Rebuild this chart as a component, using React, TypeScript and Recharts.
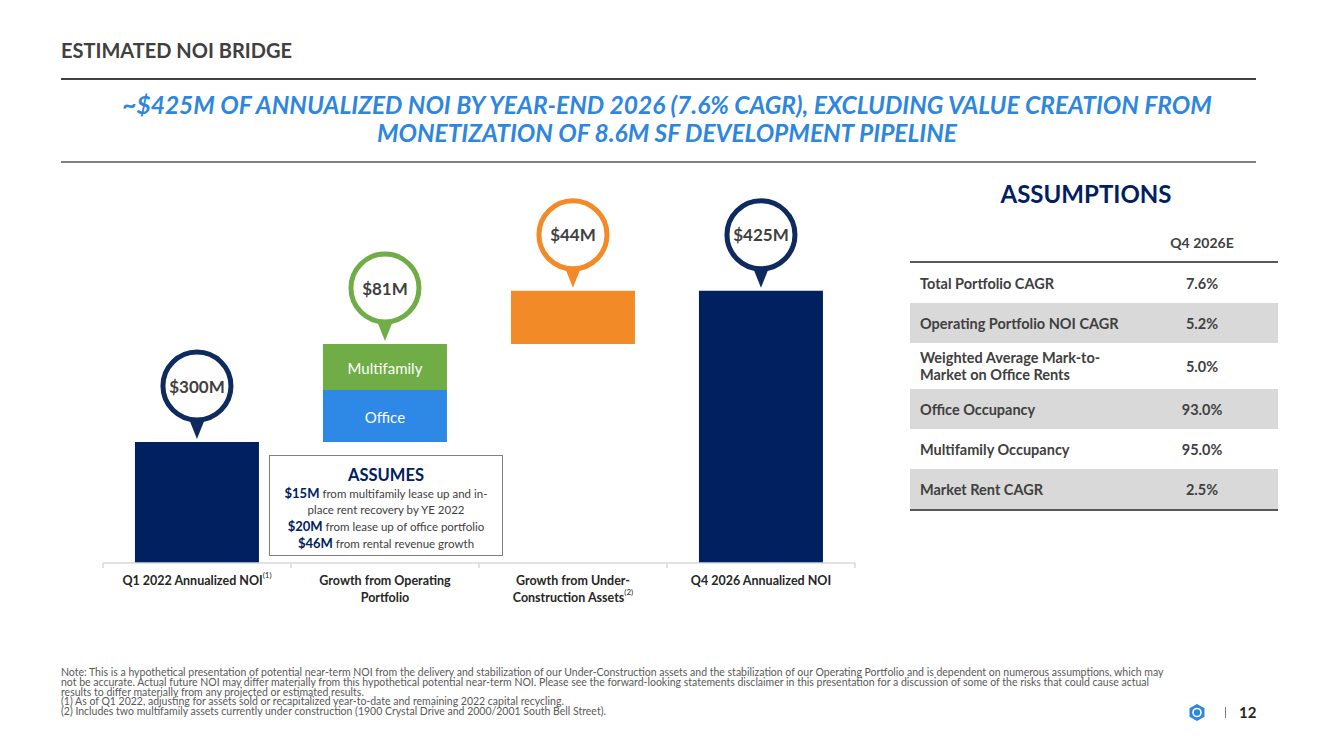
import React from 'react';
import { BarChart, Bar, XAxis, YAxis, LabelList } from 'recharts';

// Bridge columns (labels split across lines as on the axis)
const categoryLines = [
  ['Q1 2022 Annualized NOI'],
  ['Growth from Operating', 'Portfolio'],
  ['Growth from Under-', 'Construction Assets'],
  ['Q4 2026 Annualized NOI'],
];
const categoryNotes = ['(1)', '', '(2)', ''];
const categories = categoryLines.map((l) => l.join(' '));

// $M of annualized NOI
const totalNoi = [300, 0, 0, 425];
const officeGrowth = [0, 43, 0, 0];
const multifamilyGrowth = [0, 38, 0, 0];
const underConstructionGrowth = [0, 0, 44, 0];

const assumptionLabels = [
  ['Total Portfolio CAGR'],
  ['Operating Portfolio NOI CAGR'],
  ['Weighted Average Mark-to-', 'Market on Office Rents'],
  ['Office Occupancy'],
  ['Multifamily Occupancy'],
  ['Market Rent CAGR'],
];
const assumptionValues = ['7.6%', '5.2%', '5.0%', '93.0%', '95.0%', '2.5%'];

const footnotes = [
  'Note: This is a hypothetical presentation of potential near-term NOI from the delivery and stabilization of our Under-Construction assets and the stabilization of our Operating Portfolio and is dependent on numerous assumptions, which may',
  'not be accurate. Actual future NOI may differ materially from this hypothetical potential near-term NOI. Please see the forward-looking statements disclaimer in this presentation for a discussion of some of the risks that could cause actual',
  'results to differ materially from any projected or estimated results.',
  '(1) As of Q1 2022, adjusting for assets sold or recapitalized year-to-date and remaining 2022 capital recycling.',
  '(2) Includes two multifamily assets currently under construction (1900 Crystal Drive and 2000/2001 South Bell Street).',
];

const NAVY = '#002060';
const OFFICE_BLUE = '#2E88E6';
const GREEN = '#70AD47';
const ORANGE = '#F28A27';
const TEXT = '#404040';
const FONT = "Lato, 'Open Sans', sans-serif";

const CHART_W = 900;
const CHART_H = 620;
// plot area runs 188..563 so the bubbles above the bars stay inside it
const MARGIN = { top: 188, right: 45, bottom: 7, left: 103 };
const BAND = (CHART_W - MARGIN.left - MARGIN.right) / categories.length;

// waterfall: growth steps float on the running total
let running = 0;
const chartData = categories.map((name, i) => {
  const step = officeGrowth[i] + multifamilyGrowth[i] + underConstructionGrowth[i];
  const base = totalNoi[i] ? 0 : running;
  running = totalNoi[i] || running + step;
  return {
    name,
    base,
    total: totalNoi[i],
    office: officeGrowth[i],
    multifamily: multifamilyGrowth[i],
    underConstruction: underConstructionGrowth[i],
    change: totalNoi[i] || step,
  };
});

const stackOrder = ['total', 'office', 'multifamily', 'underConstruction'] as const;
const bubbleColors: Record<string, string> = {
  total: '#0E2A5E',
  office: GREEN,
  multifamily: GREEN,
  underConstruction: ORANGE,
};

const topKey = (row: any) => {
  let key = '';
  stackOrder.forEach((k) => {
    if (row[k] > 0) key = k;
  });
  return key;
};

const box = (props: any) => {
  const vb = props.viewBox || {};
  return {
    x: vb.x ?? props.x,
    y: vb.y ?? props.y,
    width: vb.width ?? props.width,
    height: vb.height ?? props.height,
  };
};

// label entries skip empty segments, so find the column from the bar position
const rowAt = (x: number, width: number) => chartData[Math.floor((x + width / 2 - MARGIN.left) / BAND)];

const makeBubble = (key: string) => (props: any) => {
  const { x, y, width } = box(props);
  const row = rowAt(x, width);
  if (!row || topKey(row) !== key) return null;
  const cx = x + width / 2;
  const cy = y - 56;
  const color = bubbleColors[key];
  return (
    <g>
      <polygon points={`${cx - 10},${cy + 28} ${cx + 10},${cy + 28} ${cx},${cy + 53}`} fill={color} />
      <circle cx={cx} cy={cy} r={34} fill="#fff" stroke={color} strokeWidth={5} />
      <text x={cx} y={cy} textAnchor="middle" dominantBaseline="central" fontSize={17} fontWeight={700} fill={TEXT} fontFamily={FONT}>
        {`$${row.change}M`}
      </text>
    </g>
  );
};

const makeSegmentName = (key: string, name: string) => (props: any) => {
  const { x, y, width, height } = box(props);
  const row: any = rowAt(x, width);
  if (!row || !row[key]) return null;
  return (
    <text x={x + width / 2} y={y + height / 2 + 1} textAnchor="middle" dominantBaseline="central" fontSize={15} fill="#fff" fontFamily={FONT}>
      {name}
    </text>
  );
};

const CategoryTick = (props: any) => {
  const { x, y, payload } = props;
  const i = payload.index;
  const lines = categoryLines[i];
  return (
    <g>
      <line x1={x - BAND / 2} x2={x - BAND / 2} y1={y} y2={y + 5} stroke="#d9d9d9" strokeWidth={1.5} />
      {i === categories.length - 1 && (
        <line x1={x + BAND / 2} x2={x + BAND / 2} y1={y} y2={y + 5} stroke="#d9d9d9" strokeWidth={1.5} />
      )}
      {lines.map((line, j) => (
        <text key={j} x={x} y={y + 17 + j * 17} textAnchor="middle" dominantBaseline="central" fontSize={12.5} fontWeight={700} fill="#262626" fontFamily={FONT}>
          {line}
          {j === lines.length - 1 && categoryNotes[i] ? (
            <tspan dy={-5} fontSize={8} fontWeight={400}>{categoryNotes[i]}</tspan>
          ) : null}
        </text>
      ))}
    </g>
  );
};

const abs = (style: React.CSSProperties): React.CSSProperties => ({ position: 'absolute', ...style });

export default function App() {
  return (
    <div style={abs({ left: 0, top: 0, width: 1331, height: 748, background: '#fff', overflow: 'hidden', fontFamily: FONT, color: TEXT })}>
      <div style={abs({ left: 61, top: 38, fontSize: 20, fontWeight: 700, lineHeight: '24px' })}>ESTIMATED NOI BRIDGE</div>
      <div style={abs({ left: 61, top: 78, width: 1195, height: 1.5, background: '#404040' })} />
      <div
        style={abs({
          left: 61,
          top: 91,
          width: 1212,
          textAlign: 'center',
          fontSize: 24.5,
          fontWeight: 700,
          fontStyle: 'italic',
          color: '#2E86DE',
          lineHeight: '28px',
          whiteSpace: 'nowrap',
        })}
      >
        <div>~$425M OF ANNUALIZED NOI BY YEAR-END 2026 (7.6% CAGR), EXCLUDING VALUE CREATION FROM</div>
        <div>MONETIZATION OF 8.6M SF DEVELOPMENT PIPELINE</div>
      </div>
      <div style={abs({ left: 61, top: 161, width: 1195, height: 1.5, background: '#808080' })} />

      <div style={abs({ left: 0, top: 0 })}>
        <BarChart width={CHART_W} height={CHART_H} data={chartData} margin={MARGIN} barCategoryGap="17%">
          <XAxis
            dataKey="name"
            height={50}
            axisLine={{ stroke: '#d9d9d9', strokeWidth: 1.5 }}
            tickLine={false}
            tickSize={0}
            tickMargin={0}
            interval={0}
            tick={<CategoryTick />}
          />
          <YAxis hide domain={[200, 510]} allowDataOverflow />
          <Bar dataKey="base" stackId="noi" fill="transparent" isAnimationActive={false} />
          <Bar dataKey="total" stackId="noi" fill={NAVY} isAnimationActive={false}>
            <LabelList dataKey="total" content={makeBubble('total')} />
          </Bar>
          <Bar dataKey="office" stackId="noi" fill={OFFICE_BLUE} isAnimationActive={false}>
            <LabelList dataKey="office" content={makeSegmentName('office', 'Office')} />
          </Bar>
          <Bar dataKey="multifamily" stackId="noi" fill={GREEN} isAnimationActive={false}>
            <LabelList dataKey="multifamily" content={makeSegmentName('multifamily', 'Multifamily')} />
            <LabelList dataKey="multifamily" content={makeBubble('multifamily')} />
          </Bar>
          <Bar dataKey="underConstruction" stackId="noi" fill={ORANGE} isAnimationActive={false}>
            <LabelList dataKey="underConstruction" content={makeBubble('underConstruction')} />
          </Bar>
        </BarChart>
      </div>

      {/* what the operating growth assumes */}
      <div
        style={abs({
          left: 269,
          top: 455,
          width: 232,
          height: 99,
          border: '1.5px solid #7f7f7f',
          background: '#fff',
          textAlign: 'center',
          fontSize: 11.5,
          lineHeight: '16px',
          color: TEXT,
          whiteSpace: 'nowrap',
        })}
      >
        <div style={{ fontSize: 16.5, fontWeight: 700, color: NAVY, lineHeight: '20px', marginTop: 9 }}>ASSUMES</div>
        <div>
          <b style={{ color: NAVY, fontSize: 13 }}>$15M</b> from multifamily lease up and in-
        </div>
        <div>place rent recovery by YE 2022</div>
        <div>
          <b style={{ color: NAVY, fontSize: 13 }}>$20M</b> from lease up of office portfolio
        </div>
        <div>
          <b style={{ color: NAVY, fontSize: 13 }}>$46M</b> from rental revenue growth
        </div>
      </div>

      {/* assumptions table */}
      <div style={abs({ left: 910, top: 180, width: 352, textAlign: 'center', fontSize: 24, fontWeight: 700, color: NAVY, lineHeight: '28px' })}>
        ASSUMPTIONS
      </div>
      <div style={abs({ left: 1150, top: 234, width: 104, textAlign: 'center', fontSize: 14, fontWeight: 700, lineHeight: '18px' })}>
        Q4 2026E
      </div>
      <div style={abs({ left: 910, top: 261, width: 368, borderTop: '2px solid #595959', borderBottom: '2px solid #595959' })}>
        {assumptionLabels.map((label, i) => (
          <div
            key={i}
            style={{
              display: 'flex',
              alignItems: 'center',
              height: label.length > 1 ? 46 : 40,
              background: i % 2 === 1 ? '#d9d9d9' : '#fff',
              fontSize: 14.5,
              fontWeight: 700,
              lineHeight: '17px',
            }}
          >
            <div style={{ width: 240, paddingLeft: 10, boxSizing: 'border-box', whiteSpace: 'nowrap' }}>
              {label.map((l, j) => (
                <div key={j}>{l}</div>
              ))}
            </div>
            <div style={{ width: 104, textAlign: 'center' }}>{assumptionValues[i]}</div>
          </div>
        ))}
      </div>

      {/* notes */}
      <div style={abs({ left: 61, top: 668, fontSize: 10.5, lineHeight: '9.8px', color: '#595959', whiteSpace: 'nowrap' })}>
        {footnotes.map((f, i) => (
          <div key={i}>{f}</div>
        ))}
      </div>

      {/* page marker */}
      <svg style={abs({ left: 1189, top: 704 })} width={16} height={17} viewBox="0 0 16 17">
        <polygon points="8,0 15.5,4.25 15.5,12.75 8,17 0.5,12.75 0.5,4.25" fill="#2E86DE" />
        <circle cx={8} cy={8.5} r={4} fill="none" stroke="#fff" strokeWidth={1.6} />
      </svg>
      <div style={abs({ left: 1225, top: 707, width: 1, height: 11, background: '#7f7f7f' })} />
      <div style={abs({ left: 1239, top: 703, fontSize: 15, fontWeight: 700, color: '#262626', lineHeight: '18px' })}>12</div>
    </div>
  );
}
